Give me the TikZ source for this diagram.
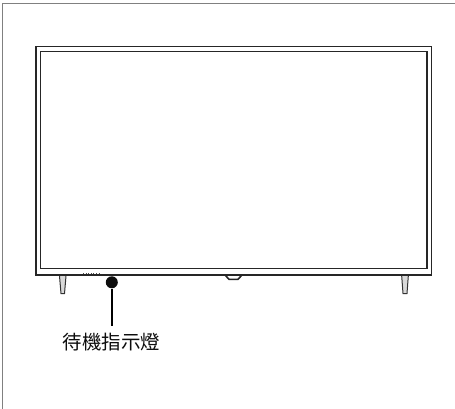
\documentclass[tikz,border=0pt]{standalone}
\usepackage{fontspec}
\newfontfamily\cjk{Noto Sans CJK TC}
\tikzset{
  px/.style={x=1pt,y=-1pt},
  frameline/.style={draw=black!85,line width=1.6pt},
  pagerule/.style={draw=black!50,line width=1.2pt},
  legshape/.style={draw=black!80,line width=1pt,fill=black!15},
  lamp/.style={circle,fill=black!95,inner sep=0pt,minimum size=12pt},
  caption/.style={font=\cjk\fontsize{19.5}{21}\selectfont,text=black!95,inner sep=0pt}
}
\begin{document}
\begin{tikzpicture}[px]
\useasboundingbox (0,0) rectangle (455,409);
\fill[white] (0,0) rectangle (455,409);
\draw[pagerule] (2.7,409) -- (2.7,3.8) -- (455,3.8);
% legs
\draw[legshape] (59.5,276) -- (61,293.5) -- (64.5,293.5) -- (66,276);
\draw[legshape] (401.7,276) -- (403,293.5) -- (407,293.5) -- (408.3,276);
% stand notch
\draw[frameline] (225.5,275.5) -- (229,279.3) -- (238,279.3) -- (241.5,275.5);
% TV
\draw[frameline,fill=white] (36,46.5) rectangle (431.5,275);
\draw[frameline] (40.5,51.5) rectangle (427,268.5);
% speaker dots
\draw[black!70,line width=0.8pt,dash pattern=on 1pt off 1.6pt] (83,273.2) -- (99,273.2);
% lamp
\node[lamp] (led) at (111.8,282.3) {};
\coordinate (tail) at (111.8,326);
\draw[black,line width=1.5pt] (led) -- (tail);
\node[caption] (label) at (111.5,342) {待機指示燈};
\end{tikzpicture}
\end{document}
